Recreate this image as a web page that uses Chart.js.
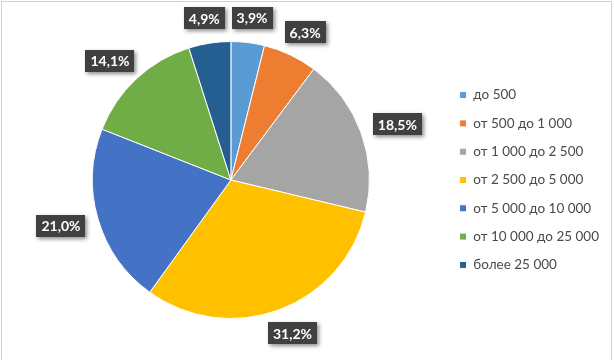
<!DOCTYPE html>
<html><head><meta charset="utf-8">
<script src="https://cdn.jsdelivr.net/npm/chart.js@4"></script>
<style>
html,body{margin:0;padding:0;background:#fff;overflow:hidden}
#wrap{position:relative;width:614px;height:360px}
#frame{position:absolute;left:1px;top:1px;width:609px;height:400px;border:1px solid #cfcfcf}
canvas{position:absolute;left:0;top:0}
</style></head>
<body><div id="wrap"><div id="frame"></div><canvas id="c" width="614" height="360"></canvas></div>
<script>
const categories = ["до 500","от 500 до 1 000","от 1 000 до 2 500","от 2 500 до 5 000","от 5 000 до 10 000","от 10 000 до 25 000","более 25 000"];
const shares = [3.9, 6.3, 18.5, 31.2, 21.0, 14.1, 4.9];
const labels = ["3,9%","6,3%","18,5%","31,2%","21,0%","14,1%","4,9%"];
const colors = ["#5B9BD5","#ED7D31","#A5A5A5","#FFC000","#4472C4","#70AD47","#255E91"];

const labelPlugin = {
  id:'boxLabels',
  afterDatasetsDraw(chart){
    const ctx = chart.ctx;
    const meta = chart.getDatasetMeta(0);
    ctx.save();
    ctx.font = 'bold 14px Lato, "Open Sans", sans-serif';
    meta.data.forEach((arc,i)=>{
      const p = arc.getProps(['x','y','startAngle','endAngle','outerRadius'],true);
      const a = (p.startAngle+p.endAngle)/2;
      const c = Math.cos(a), s = Math.sin(a);
      const txt = labels[i];
      const tw = ctx.measureText(txt).width;
      const w = tw + 10, h = 22;
      const r = p.outerRadius + 14;
      const cx = p.x + r*c + (w/2)*c;
      const cy = p.y + r*s + (h/2)*s;
      ctx.shadowColor='rgba(0,0,0,0.45)';
      ctx.shadowBlur=4; ctx.shadowOffsetX=2; ctx.shadowOffsetY=2;
      ctx.fillStyle='#404040';
      ctx.fillRect(Math.round(cx-w/2), Math.round(cy-h/2), Math.round(w), h);
      ctx.shadowColor='transparent';
      ctx.fillStyle='#fff';
      ctx.textAlign='center'; ctx.textBaseline='middle';
      ctx.fillText(txt, cx, cy+1);
    });
    ctx.restore();
  }
};

new Chart(document.getElementById('c'), {
  type:'pie',
  data:{labels:categories, datasets:[{data:shares, backgroundColor:colors, borderColor:'#ffffff', borderWidth:1}]},
  options:{
    responsive:false, animation:false,
    layout:{padding:{top:41,bottom:41,left:17,right:5}},
    plugins:{
      tooltip:{enabled:false},
      legend:{position:'right',
        labels:{boxWidth:7,boxHeight:7,padding:14.8,color:'#4a4a4a',
          font:{size:13.5,family:'Lato, "Open Sans", sans-serif'}}}
    }
  },
  plugins:[labelPlugin]
});
</script></body></html>
